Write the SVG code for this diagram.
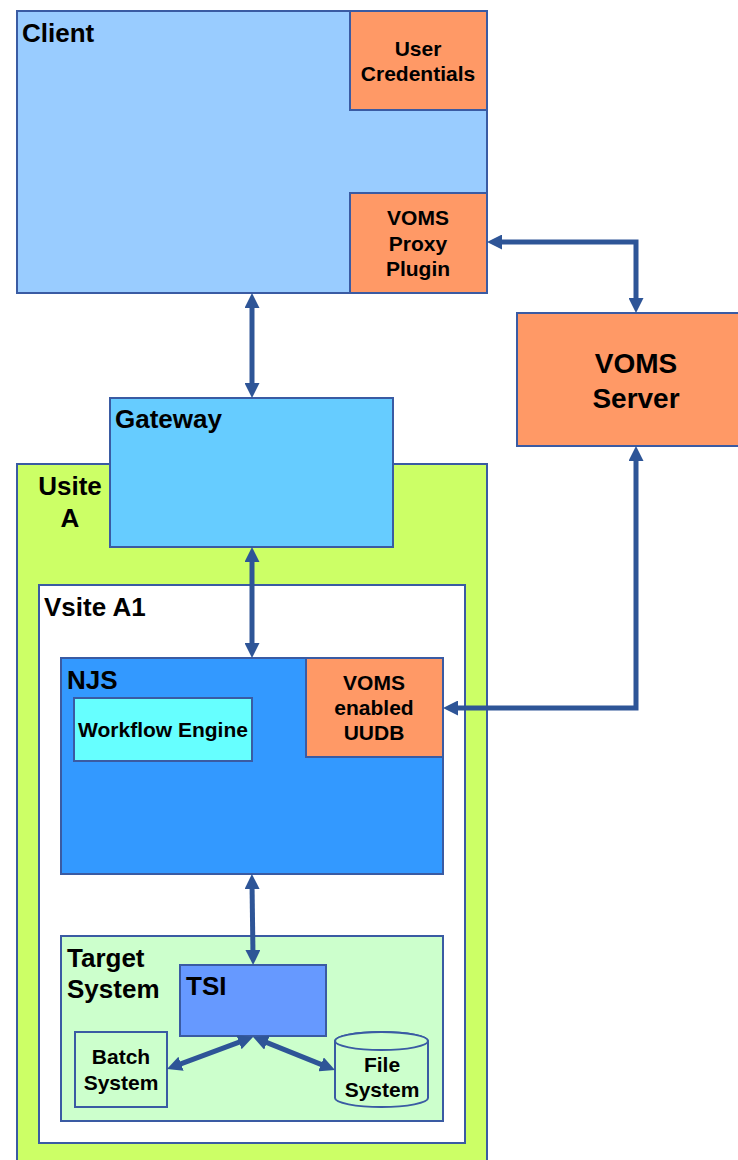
<svg xmlns="http://www.w3.org/2000/svg" width="738" height="1160" viewBox="0 0 738 1160">
<style>
.box{stroke:#3A5BA3;stroke-width:2}
.t{font-family:"Liberation Sans",Arial,sans-serif;font-weight:bold;fill:#000}
.big{font-size:26px}
.sm{font-size:21px;text-anchor:middle}
.srv{font-size:28px;text-anchor:middle}
.conn{fill:none;stroke:#2E5597;stroke-width:5;marker-start:url(#ah);marker-end:url(#ah)}
</style>
<defs>
<marker id="ah" viewBox="0 0 10 10" markerWidth="3" markerHeight="3" refX="4" refY="5" orient="auto-start-reverse">
<path d="M0,0 L10,5 L0,10 z" fill="#2E5597"/>
</marker>
</defs>
<rect width="738" height="1160" fill="#fff"/>
<g id="client">
<rect class="box" x="17" y="11" width="470" height="282" fill="#99CCFF"/>
<text class="t big" x="22" y="42">Client</text>
</g>
<g id="user-credentials">
<rect class="box" x="350" y="11" width="137" height="99" fill="#FF9966"/>
<text class="t sm" x="418" y="56">User</text>
<text class="t sm" x="418" y="81">Credentials</text>
</g>
<g id="voms-proxy-plugin">
<rect class="box" x="350" y="193" width="137" height="100" fill="#FF9966"/>
<text class="t sm" x="418" y="225">VOMS</text>
<text class="t sm" x="418" y="251">Proxy</text>
<text class="t sm" x="418" y="276">Plugin</text>
</g>
<g id="voms-server">
<rect class="box" x="517" y="313" width="225" height="133" fill="#FF9966"/>
<text class="t srv" x="636" y="373">VOMS</text>
<text class="t srv" x="636" y="408">Server</text>
</g>
<g id="usite-a">
<rect class="box" x="17" y="464" width="470" height="700" fill="#CCFF66"/>
<text class="t big" x="70" y="495" text-anchor="middle">Usite</text>
<text class="t big" x="70" y="527" text-anchor="middle">A</text>
</g>
<g id="gateway">
<rect class="box" x="110" y="398" width="283" height="149" fill="#66CCFF"/>
<text class="t big" x="115" y="428">Gateway</text>
</g>
<g id="vsite-a1">
<rect class="box" x="39" y="585" width="426" height="558" fill="#FFFFFF"/>
<text class="t big" x="44" y="616">Vsite A1</text>
</g>
<g id="njs">
<rect class="box" x="61" y="658" width="382" height="216" fill="#3399FF"/>
<text class="t big" x="67" y="689">NJS</text>
</g>
<g id="workflow-engine">
<rect class="box" x="74" y="698" width="178" height="63" fill="#66FFFF"/>
<text class="t sm" x="163" y="737">Workflow Engine</text>
</g>
<g id="voms-uudb">
<rect class="box" x="306" y="658" width="137" height="99" fill="#FF9966"/>
<text class="t sm" x="374" y="690">VOMS</text>
<text class="t sm" x="374" y="715">enabled</text>
<text class="t sm" x="374" y="740">UUDB</text>
</g>
<g id="target-system">
<rect class="box" x="61" y="936" width="382" height="185" fill="#CCFFCC"/>
<text class="t big" x="67" y="967">Target</text>
<text class="t big" x="67" y="998">System</text>
</g>
<g id="tsi">
<rect class="box" x="180" y="965" width="146" height="71" fill="#6699FF"/>
<text class="t big" x="186" y="995">TSI</text>
</g>
<g id="batch-system">
<rect class="box" x="75" y="1032" width="92" height="75" fill="#CCFFCC"/>
<text class="t sm" x="121" y="1064">Batch</text>
<text class="t sm" x="121" y="1090">System</text>
</g>
<g id="file-system">
<path class="box" d="M335,1041 L335,1098 A46.5,9 0 0 0 428,1098 L428,1041 A46.5,9 0 0 0 335,1041 Z" fill="#CCFFCC"/>
<ellipse class="box" cx="381.5" cy="1041" rx="46.5" ry="9" fill="#CCFFCC"/>
<text class="t sm" x="382" y="1072">File</text>
<text class="t sm" x="382" y="1097">System</text>
</g>
<g id="connectors">
<path class="conn" d="M252,302 L252,389"/>
<path class="conn" d="M496,242 L636,242 L636,304"/>
<path class="conn" d="M636,455 L636,708 L452,708"/>
<path class="conn" d="M252,556 L252,649"/>
<path class="conn" d="M252,883 L253,956"/>
<path class="conn" d="M244.6,1040.1 L175.4,1065.9"/>
<path class="conn" d="M261.4,1040.4 L326.6,1066.6"/>
</g>
</svg>
